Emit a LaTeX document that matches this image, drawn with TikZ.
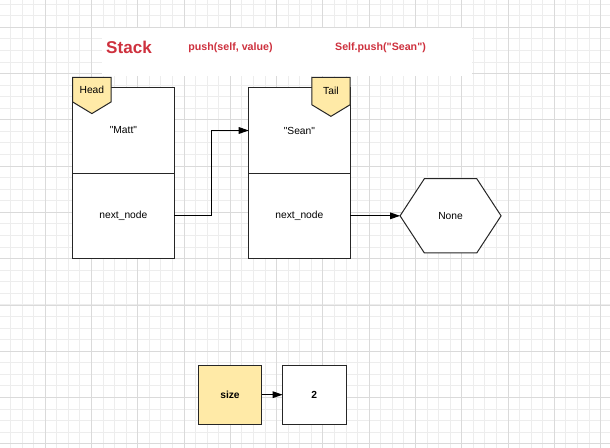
\documentclass[tikz,border=0pt]{standalone}
\usepackage{fontspec}
\setmainfont{Liberation Sans}
\usetikzlibrary{positioning}
\usetikzlibrary{shapes.symbols}
\usetikzlibrary{arrows.meta}

\definecolor{gridminor}{RGB}{237,237,237}
\definecolor{gridmajor}{RGB}{218,218,218}
\definecolor{tagyellow}{RGB}{255,234,167}
\definecolor{titlered}{RGB}{206,49,62}

\tikzset{
  cell/.style={draw=black!85, fill=white, line width=0.75pt, inner sep=0pt, outer sep=0pt,
    minimum width=76pt, minimum height=64pt, font=\fontsize{7.7}{9}\selectfont},
  tag/.style={shape=signal, signal from=nowhere, signal to=south, signal pointer angle=117.6,
    draw=black!85, fill=tagyellow, line width=0.75pt, inner sep=0pt, outer sep=0pt,
    minimum width=28.7pt, minimum height=24pt, font=\fontsize{7.7}{9}\selectfont},
  endnode/.style={shape=signal, signal from=nowhere, signal to=east and west, signal pointer angle=113.6,
    draw=black!85, fill=white, line width=0.75pt, inner sep=0pt, outer sep=0pt,
    minimum width=75.75pt, minimum height=55.7pt, font=\fontsize{7.7}{9}\selectfont},
  countbox/.style={draw=black!85, line width=0.75pt, inner sep=0pt, outer sep=0pt,
    minimum width=47.5pt, minimum height=44.5pt, font=\fontsize{7.7}{9}\selectfont\bfseries},
  heading/.style={text=titlered, font=\fontsize{8}{10}\selectfont\bfseries},
  link/.style={draw=black, line width=0.75pt, -{Triangle[length=7.5pt, width=5pt]}},
}

\begin{document}
\begin{tikzpicture}[x=0.75pt,y=-0.75pt]
  \useasboundingbox (0,0) rectangle (610,448);

  % Grid
  \foreach \i in {0,...,52}
    \draw[gridminor, line width=0.75pt] ({-1+11.57*\i},0) -- ({-1+11.57*\i},448);
  \foreach \j in {0,...,38}
    \draw[gridminor, line width=0.75pt] (0,{4.16+11.57*\j}) -- (610,{4.16+11.57*\j});
  \foreach \i in {0,...,13}
    \draw[gridmajor, line width=0.75pt] ({-1+46.28*\i},0) -- ({-1+46.28*\i},448);
  \foreach \j in {0,...,9}
    \draw[gridmajor, line width=0.75pt] (0,{27.3+46.3*\j}) -- (610,{27.3+46.3*\j});

  % Title
  \fill[white] (101.7,28) rectangle (471.7,76);
  \node[heading, font=\fontsize{12.8}{15}\selectfont\bfseries] (title) at (129,47) {Stack};
  \node[heading] (signature) at (230.5,48) {push(self, value)};
  \node[heading] (call) at (380.5,48) {Self.push(\textquotedbl Sean\textquotedbl)};

  % List nodes
  \node[cell] (matt) at (123.4,130.5) {\textquotedbl Matt\textquotedbl};
  \node[cell, below=0pt of matt] (mattnext) {next\_node};
  \node[cell, right=56pt of matt] (sean) {\textquotedbl Sean\textquotedbl};
  \node[cell, below=0pt of sean] (seannext) {next\_node};
  \node[endnode, right=37.5pt of seannext] (none) {None};

  \node[tag, anchor=north west] (head) at ([yshift=7.8pt]matt.north west) {Head};
  \node[tag, anchor=north east] (tail) at ([yshift=7.8pt]sean.north east) {Tail};

  \draw[link] (mattnext.east) -- ++(37.7,0) |- (sean.west);
  \draw[link] (seannext.east) -- (none.west);

  % Size
  \node[countbox, fill=tagyellow] (size) at (230,394.7) {size};
  \node[countbox, fill=white, right=15.75pt of size] (count) {2};
  \draw[link] (size) -- (count);
\end{tikzpicture}
\end{document}
